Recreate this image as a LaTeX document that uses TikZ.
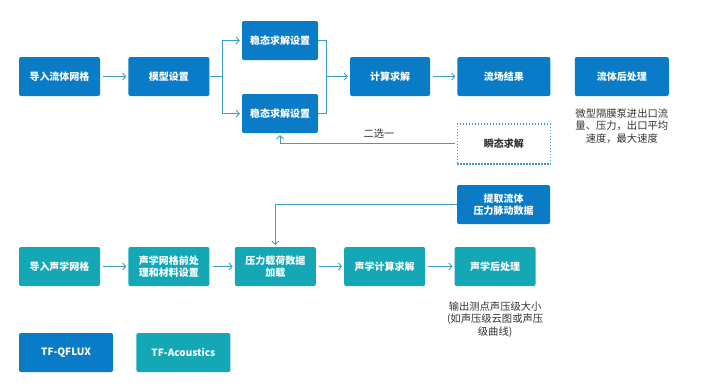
\documentclass[tikz,border=0pt]{standalone}
\usepackage{fontspec}
\setmainfont{Noto Sans CJK SC}
\usetikzlibrary{arrows.meta,positioning}
\definecolor{flowblue}{HTML}{0A7BC6}
\definecolor{acoteal}{HTML}{14A7B6}
\definecolor{linkblue}{HTML}{3F9BC5}
\definecolor{notegray}{HTML}{333333}

\begin{document}
\begin{tikzpicture}[x=1pt, y=-1pt,
    node distance=28pt,
    flow/.style={fill=flowblue, rounded corners=2pt, minimum width=81pt, minimum height=39pt, inner sep=2pt, align=center, text=white, font=\bfseries\fontsize{10}{12.5}\selectfont},
    aco/.style={flow, fill=acoteal},
    alt/.style={draw=linkblue, line width=1.3pt, dash pattern=on 1.3pt off 1.7pt, fill=white, minimum height=40pt, align=center, text=notegray, font=\bfseries\fontsize{10}{12.5}\selectfont},
    note/.style={align=center, text=notegray, font=\fontsize{10.3}{12.5}\selectfont},
    link/.style={draw=linkblue, line width=0.9pt},
    arrow/.style={link, -{Straight Barb[length=3pt, width=7pt]}, shorten >=2pt}
]
\useasboundingbox[fill=white] (0,0) rectangle (710,386);

% fluid chain (TF-QFLUX)
\node[flow] (fmesh) at (59.5,76.5) {导入流体网格};
\node[flow, right=of fmesh] (model) {模型设置};
\node[flow, minimum width=76pt] (steadyA) at (280,40.5) {稳态求解设置};
\node[flow, minimum width=76pt] (steadyB) at (280,113.5) {稳态求解设置};
\node[flow, minimum width=80pt] (solve) at (390,76.5) {计算求解};
\node[flow, minimum width=93pt, right=27pt of solve] (field) {流场结果};
\node[flow, minimum width=94pt, right=24pt of field] (fpost) {流体后处理};
\node[alt, minimum width=93pt, below=27pt of field] (trans) {瞬态求解};
\node[note, below=9pt of fpost] (fnote) {微型隔膜泵进出口流\\量、压力，出口平均\\速度，最大速度};
\node[flow, minimum width=93pt] (extract) at (503.5,204.5) {提取流体\\压力脉动数据};

% acoustic chain (TF-Acoustics)
\node[aco] (amesh) at (59.5,266.5) {导入声学网格};
\node[aco, right=of amesh] (apre) {声学网格前处\\理和材料设置};
\node[aco, right=25pt of apre] (load) {压力载荷数据\\加载};
\node[aco, right=of load] (asolve) {声学计算求解};
\node[aco, right=29pt of asolve] (apost) {声学后处理};
\node[note, below=12pt of apost] (anote) {输出测点声压级大小\\(如声压级云图或声压\\级曲线)};

% legend
\node[flow, minimum width=94pt] (lgflux) at (66,352.5) {TF-QFLUX};
\node[aco, minimum width=94pt, right=23pt of lgflux] (lgaco) {TF-Acoustics};

% connectors
\coordinate (fork) at (222,76.5);
\coordinate (join) at (326,76.5);
\draw[arrow, shorten <=3pt] (fmesh) -- (model);
\draw[link] (model.east) -- (fork);
\draw[arrow] (fork) |- (steadyA);
\draw[arrow] (fork) |- (steadyB);
\draw[link] (steadyA.east) -| (join);
\draw[link] (steadyB.east) -| (join);
\draw[arrow] (join) -- (solve);
\draw[arrow, shorten <=3pt] (solve) -- (field);
\draw[arrow, {Straight Barb[length=3pt, width=7pt]}-, shorten <=2pt]
    (steadyB.south) |- node[pos=0.78, above=2pt, note] {二选一} (trans.west);
\draw[arrow] (extract.west) -| (load.north);
\draw[arrow, shorten <=3pt] (amesh) -- (apre);
\draw[arrow, shorten <=3pt] (apre) -- (load);
\draw[arrow, shorten <=3pt] (load) -- (asolve);
\draw[arrow, shorten <=3pt] (asolve) -- (apost);
\end{tikzpicture}
\end{document}
